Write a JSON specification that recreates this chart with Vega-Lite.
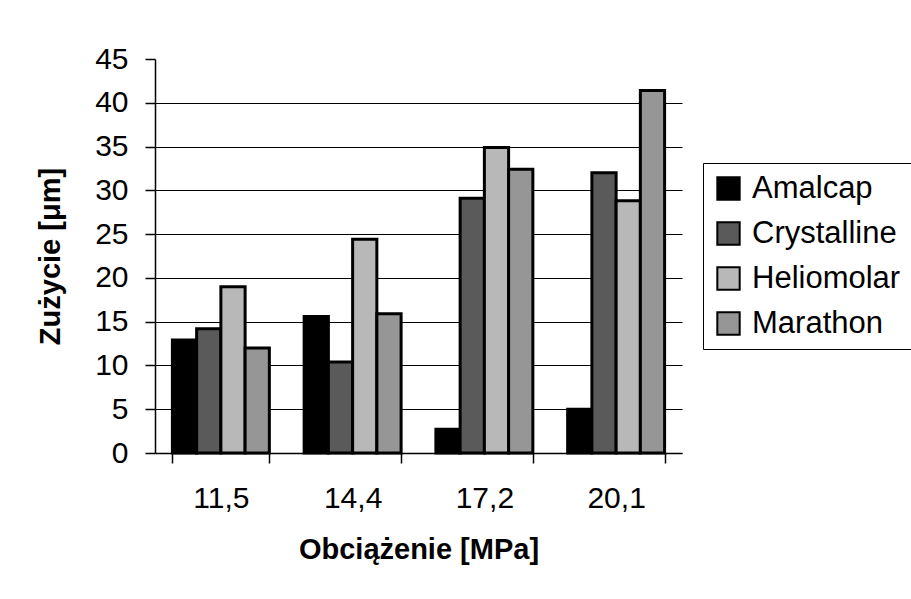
{
  "$schema": "https://vega.github.io/schema/vega-lite/v6.json",
  "width": 527,
  "height": 394,
  "autosize": "none",
  "padding": {"left": 155, "top": 59, "right": 229, "bottom": 146},
  "background": "white",
  "data": {
    "values": [
      {"obc": "11,5", "material": "Amalcap", "zuzycie": 12.9},
      {"obc": "11,5", "material": "Crystalline", "zuzycie": 14.2},
      {"obc": "11,5", "material": "Heliomolar", "zuzycie": 19.0},
      {"obc": "11,5", "material": "Marathon", "zuzycie": 12.0},
      {"obc": "14,4", "material": "Amalcap", "zuzycie": 15.6},
      {"obc": "14,4", "material": "Crystalline", "zuzycie": 10.4},
      {"obc": "14,4", "material": "Heliomolar", "zuzycie": 24.4},
      {"obc": "14,4", "material": "Marathon", "zuzycie": 15.9},
      {"obc": "17,2", "material": "Amalcap", "zuzycie": 2.7},
      {"obc": "17,2", "material": "Crystalline", "zuzycie": 29.1},
      {"obc": "17,2", "material": "Heliomolar", "zuzycie": 34.9},
      {"obc": "17,2", "material": "Marathon", "zuzycie": 32.4},
      {"obc": "20,1", "material": "Amalcap", "zuzycie": 5.0},
      {"obc": "20,1", "material": "Crystalline", "zuzycie": 32.0},
      {"obc": "20,1", "material": "Heliomolar", "zuzycie": 28.8},
      {"obc": "20,1", "material": "Marathon", "zuzycie": 41.4}
    ]
  },
  "mark": {"type": "bar", "stroke": "black", "strokeWidth": 3},
  "encoding": {
    "x": {
      "field": "obc",
      "type": "nominal",
      "sort": null,
      "scale": {"paddingInner": 0.264, "paddingOuter": 0.132},
      "axis": {
        "title": "Obciążenie [MPa]",
        "labelAngle": 0,
        "tickBand": "extent",
        "tickSize": 10,
        "labelPadding": 20,
        "titlePadding": 22,
        "grid": false
      }
    },
    "xOffset": {
      "field": "material",
      "type": "nominal",
      "sort": ["Amalcap", "Crystalline", "Heliomolar", "Marathon"],
      "scale": {"paddingInner": 0, "paddingOuter": 0}
    },
    "y": {
      "field": "zuzycie",
      "type": "quantitative",
      "scale": {"domain": [0, 45], "nice": false},
      "axis": {
        "title": "Zużycie [μm]",
        "values": [0, 5, 10, 15, 20, 25, 30, 35, 40, 45],
        "tickSize": 10,
        "labelPadding": 17,
        "titlePadding": 29,
        "gridColor": {"condition": {"test": "datum.value >= 45", "value": "transparent"}, "value": "black"}
      }
    },
    "fill": {
      "field": "material",
      "type": "nominal",
      "sort": ["Amalcap", "Crystalline", "Heliomolar", "Marathon"],
      "scale": {
        "domain": ["Amalcap", "Crystalline", "Heliomolar", "Marathon"],
        "range": ["#000000", "#5a5a5a", "#b8b8b8", "#969696"]
      },
      "legend": {
        "title": null,
        "orient": "none",
        "legendX": 548,
        "legendY": 104,
        "symbolType": "square",
        "symbolSize": 500,
        "symbolStrokeColor": "black",
        "symbolStrokeWidth": 2,
        "symbolOpacity": 1,
        "labelFontSize": 31,
        "labelColor": "black",
        "labelOffset": 8,
        "rowPadding": 13,
        "padding": 10,
        "strokeColor": "black",
        "fillColor": "white"
      }
    }
  },
  "config": {
    "font": "Liberation Sans",
    "view": {"stroke": null},
    "axis": {
      "labelFont": "Liberation Sans",
      "titleFont": "Liberation Sans",
      "labelFontSize": 30,
      "titleFontSize": 29,
      "titleFontWeight": "bold",
      "labelColor": "black",
      "titleColor": "black",
      "domainColor": "black",
      "domainWidth": 1.5,
      "tickColor": "black",
      "tickWidth": 1.5,
      "gridWidth": 1.2
    },
    "legend": {"labelFont": "Liberation Sans"}
  }
}
